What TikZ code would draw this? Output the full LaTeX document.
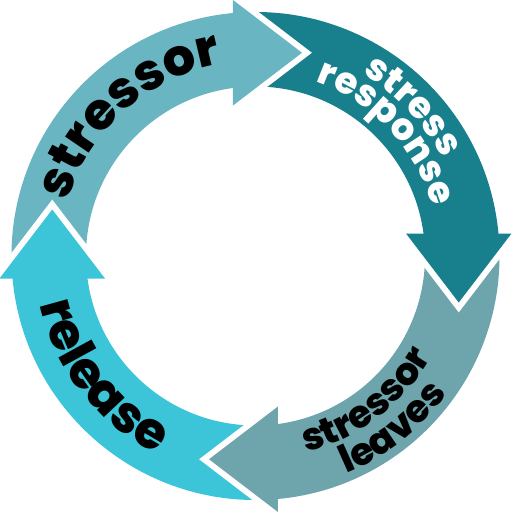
\documentclass[tikz,border=0pt]{standalone}
\usepackage{fontspec}
\setmainfont{Poppins}[BoldFont={Poppins ExtraBold}]
\usetikzlibrary{decorations.text}
\definecolor{cstressor}{HTML}{6AB5C2}
\definecolor{cresponse}{HTML}{187F8C}
\definecolor{cleaves}{HTML}{6EA4AC}
\definecolor{crelease}{HTML}{3CC4D8}
\tikzset{
  gapline/.style={draw=white, line width=12pt, line join=miter, miter limit=10},
  arctext/.style={decorate, decoration={text along path, text align=center, text={#1}}},
}
\newcommand\cyclebody[2]{%
  \begin{scope}[rotate=#1]
    \fill[#2] (184:244) arc[start angle=184, end angle=94, radius=244]
      -- (94:169.5) arc[start angle=94, end angle=184, radius=169.5] -- cycle;
  \end{scope}}
\newcommand\cyclehead[2]{%
  \begin{scope}[rotate=#1]
    \draw[gapline] (-22.5,256) -- (46.5,203.25) -- (-22.5,150.5);
    \fill[#2] (-22.5,256) -- (46.5,203.25) -- (-22.5,150.5) -- cycle;
  \end{scope}}
\begin{document}
\begin{tikzpicture}[x=1pt, y=1pt]
  \useasboundingbox (-255.5,-256) rectangle (256.5,256);
  \cyclebody{0}{cstressor}
  \cyclebody{-90}{cresponse}
  \cyclebody{-180}{cleaves}
  \cyclebody{-270}{crelease}
  \cyclehead{0}{cstressor}
  \cyclehead{-90}{cresponse}
  \cyclehead{-180}{cleaves}
  \cyclehead{-270}{crelease}
  % labels
  \path[arctext={|\bfseries\fontsize{51}{51}\selectfont|stressor}]
    (171.9:195) arc[start angle=171.9, end angle=91.9, radius=195];
  \path[arctext={|\bfseries\fontsize{37}{37}\selectfont\color{white}|stress}]
    (78.6:211) arc[start angle=78.6, end angle=8.6, radius=211];
  \path[arctext={|\bfseries\fontsize{37}{37}\selectfont\color{white}|response}]
    (83.2:184) arc[start angle=83.2, end angle=3.2, radius=184];
  \path[arctext={|\bfseries\fontsize{38}{38}\selectfont|stressor}]
    (-92.7:203) arc[start angle=-92.7, end angle=-12.7, radius=203];
  \path[arctext={|\bfseries\fontsize{38}{38}\selectfont|leaves}]
    (-91.5:236) arc[start angle=-91.5, end angle=-11.5, radius=236];
  \path[arctext={|\bfseries\fontsize{51}{51}\selectfont|release}]
    (178:221) arc[start angle=178, end angle=258, radius=221];
\end{tikzpicture}
\end{document}
